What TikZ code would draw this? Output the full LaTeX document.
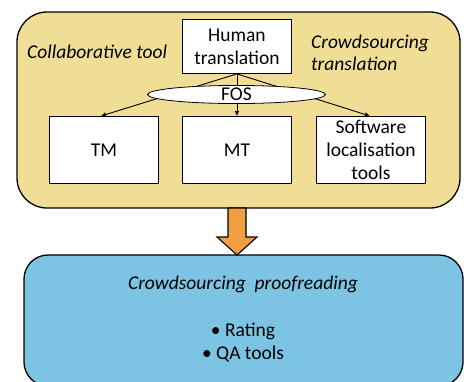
\documentclass[tikz,border=0pt]{standalone}
\usepackage{fontspec}
\setmainfont{Carlito}
\usetikzlibrary{shapes.geometric,arrows.meta}
\definecolor{topyellow}{RGB}{240,222,150}
\definecolor{botblue}{RGB}{125,196,228}
\definecolor{arroworange}{RGB}{240,160,66}
\tikzset{
  panel/.style={draw=black, line width=1.3pt},
  wbox/.style={draw=black, fill=white, line width=0.9pt, minimum width=109pt, minimum height=67pt, inner sep=0pt, align=center, font=\fontsize{19.5}{23}\selectfont, anchor=north west},
  lbl/.style={font=\fontsize{19.5}{22}\selectfont\itshape, align=left, inner sep=0pt},
  conn/.style={draw=black, line width=0.9pt, -{Latex[length=5pt,width=5pt]}},
}
\begin{document}
\begin{tikzpicture}[x=1pt,y=-1pt]
\useasboundingbox (0,0) rectangle (464,381);
\clip (0,0) rectangle (464,381);
% top panel
\draw[panel, fill=topyellow, rounded corners=30pt] (17,12) rectangle (460,208);
% bottom panel
\draw[panel, fill=botblue, rounded corners=24pt] (24,255) rectangle (463,386);
% arrow
\draw[line width=1.1pt, fill=arroworange] (228,208) -- (246,208) -- (246,237) -- (257,237) -- (237,255) -- (217,237) -- (228,237) -- cycle;
% boxes
\node[wbox, minimum height=54pt] (ht) at (182,19) {Human\\translation};
\node[wbox] (tm) at (49,116) {TM};
\node[wbox] (mt) at (182,116) {MT};
\node[wbox] (sw) at (316,116) {Software\\localisation\\tools};
% connectors
\draw[conn] (ht.south) -- ([xshift=-3pt]tm.north);
\draw[conn] (ht.south) -- (mt.north);
\draw[conn] (ht.south) -- ([xshift=-1pt]sw.north);
% FOS ellipse
\node[ellipse, draw=black, fill=white, line width=0.8pt, minimum width=178pt, minimum height=15pt, inner sep=0pt, font=\fontsize{19.5}{20}\selectfont] (fos) at (236.5,94.5) {FOS};
% labels
\node[lbl, anchor=west] (ct) at (27,52) {Collaborative tool};
\node[lbl, anchor=west] (cst) at (311,52.5) {Crowdsourcing\\translation};
\node[lbl, anchor=center] (cp) at (243,284) {Crowdsourcing\ \ proofreading};
\node[font=\fontsize{19.5}{23}\selectfont, align=center, inner sep=0pt] (bl) at (243,343) {\textbullet\ Rating\\\textbullet\ QA tools};
\end{tikzpicture}
\end{document}
